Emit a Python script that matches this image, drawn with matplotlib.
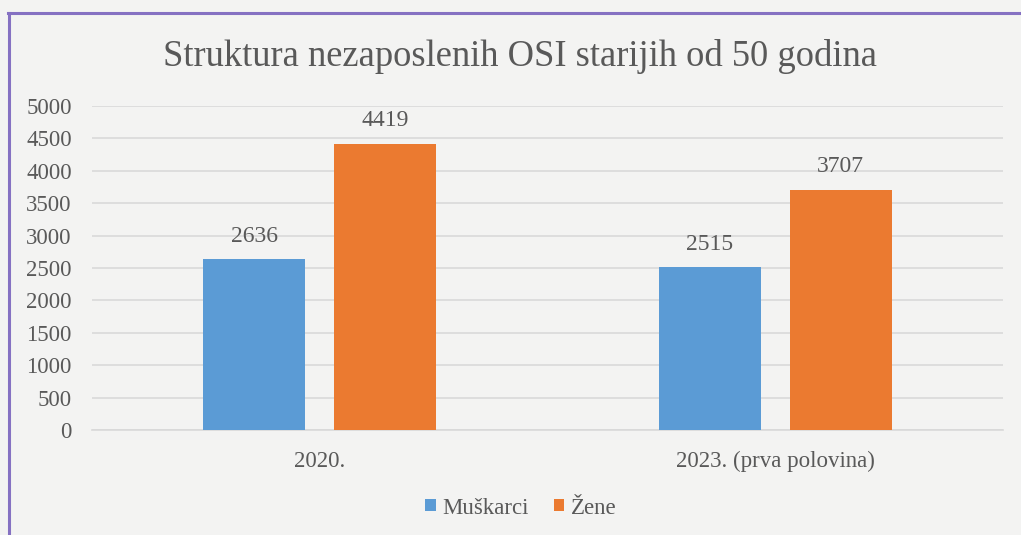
import matplotlib
matplotlib.use('Agg')
import matplotlib.pyplot as plt
from matplotlib.lines import Line2D
import numpy as np

# ── Data ──
categories = ['2020.', '2023. (prva polovina)']
series = ['Muškarci', 'Žene']
muskarci = [2636, 2515]
zene = [4419, 3707]
yticks = [0, 500, 1000, 1500, 2000, 2500, 3000, 3500, 4000, 4500, 5000]

colors = ['#5B9BD5', '#EB7A30']
text_c = '#595959'
bg = '#f3f3f2'

plt.rcParams['font.family'] = ['Liberation Serif', 'DejaVu Serif']

W, H = 1021, 535
fig = plt.figure(figsize=(W / 100, H / 100), dpi=100, facecolor=bg)
ax = fig.add_axes([92 / W, 1 - 430 / H, (1003 - 92) / W, (430 - 106) / H])
ax.set_facecolor('none')

x = np.arange(len(categories))
w = 0.224
off = 0.144
b1 = ax.bar(x - off, muskarci, w, color=colors[0], label=series[0], zorder=3)
b2 = ax.bar(x + off, zene, w, color=colors[1], label=series[1], zorder=3)
for bars, vals in ((b1, muskarci), (b2, zene)):
    for bar, v in zip(bars, vals):
        ax.text(bar.get_x() + bar.get_width() / 2, v + 190, f'{v}',
                ha='center', va='bottom', fontsize=17, color=text_c)

ax.set_xlim(-0.5, 1.5)
ax.set_ylim(0, 5000)
ax.set_yticks(yticks)
ax.set_xticks(x)
ax.set_xticklabels(categories)
ax.tick_params(axis='both', length=0, labelsize=16.5, labelcolor=text_c)
ax.tick_params(axis='x', pad=15)
ax.tick_params(axis='y', pad=14.5)
ax.grid(axis='y', color='#d9d9d9', linewidth=1.2, zorder=0)
for s in ['top', 'right', 'left']:
    ax.spines[s].set_visible(False)
ax.spines['bottom'].set_color('#d9d9d9')
ax.spines['bottom'].set_linewidth(1.2)

fig.text(520 / W, 1 - 56 / H, 'Struktura nezaposlenih OSI starijih od 50 godina',
         ha='center', va='center', fontsize=26.3, color=text_c)

leg = fig.legend(handles=[b1, b2], loc='center', bbox_to_anchor=(521 / W, 1 - 508 / H),
                 ncol=2, frameon=False, fontsize=16.5, handlelength=0.45, handleheight=0.45,
                 handletextpad=0.3, columnspacing=1.1)
for t in leg.get_texts():
    t.set_color(text_c)

# purple frame (left and top edges visible)
border = '#8571C2'
fig.add_artist(Line2D([9 / W, 9 / W], [0, 1 - 13 / H], color=border, linewidth=2.2))
fig.add_artist(Line2D([8 / W, 1], [1 - 13 / H, 1 - 13 / H], color=border, linewidth=2.2))

fig.savefig('out.png', dpi=100, facecolor=bg)
